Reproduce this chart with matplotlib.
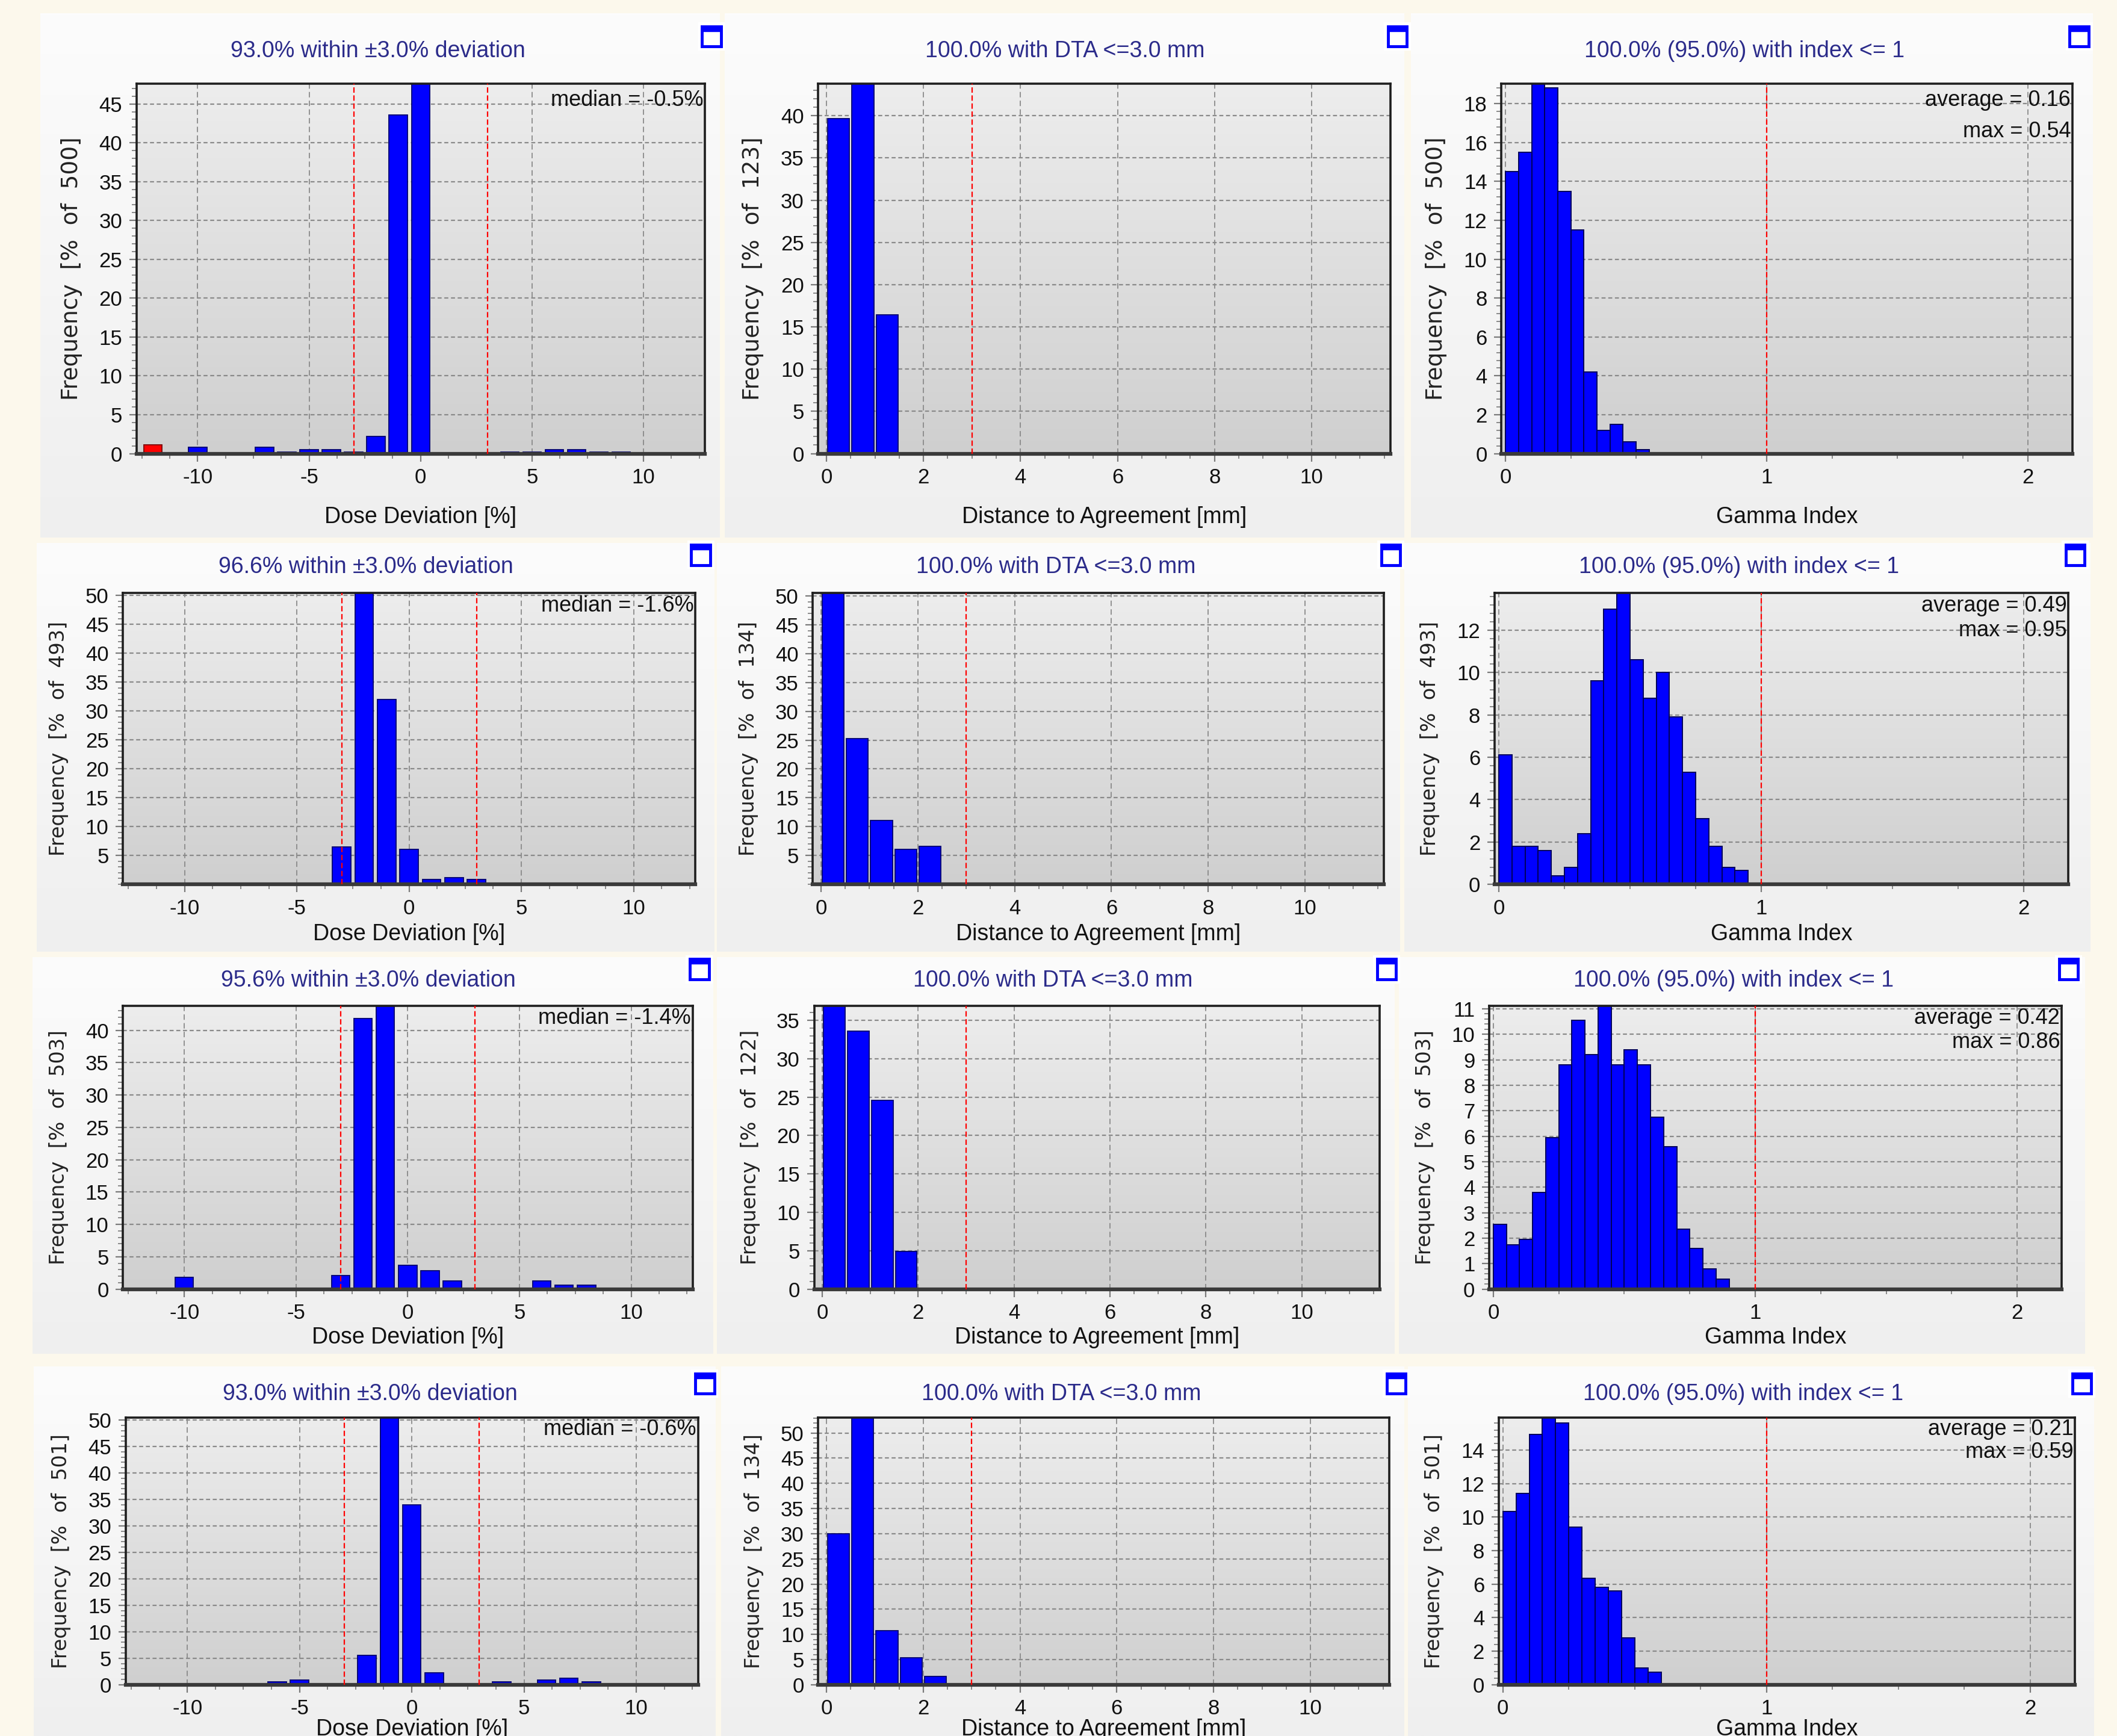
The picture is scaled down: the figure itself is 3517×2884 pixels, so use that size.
import numpy as np
import matplotlib
matplotlib.use("Agg")
import matplotlib.pyplot as plt
from matplotlib.colors import LinearSegmentedColormap
from matplotlib.patches import Rectangle
from matplotlib.ticker import AutoMinorLocator, FixedLocator

plt.rcParams['axes.unicode_minus'] = False
plt.rcParams['font.family'] = ['Liberation Sans', 'DejaVu Sans']

# ---------------- data ----------------
dose_bins = [-12, -11, -10, -9, -8, -7, -6, -5, -4, -3, -2, -1, 0,
             1, 2, 3, 4, 5, 6, 7, 8, 9, 10, 11, 12]
dose_r1 = [1.1, 0, 0.8, 0, 0, 0.8, 0.2, 0.5, 0.5, 0.2, 2.2, 43.6, 48.0,
           0, 0, 0, 0.2, 0.2, 0.5, 0.5, 0.2, 0.2, 0, 0, 0]
dose_r2 = [0, 0, 0, 0, 0, 0, 0, 0, 0, 6.5, 52.0, 32.0, 6.0,
           0.8, 1.1, 0.8, 0.1, 0.1, 0.1, 0.1, 0, 0.1, 0, 0, 0.1]
dose_r3 = [0, 0, 1.8, 0, 0, 0, 0, 0, 0, 2.1, 41.8, 44.5, 3.7,
           2.9, 1.3, 0.2, 0, 0.2, 1.3, 0.6, 0.6, 0, 0, 0, 0]
dose_r4 = [0, 0, 0, 0, 0, 0.1, 0.6, 0.9, 0.1, 0.1, 5.6, 51.5, 34.0,
           2.3, 0.1, 0.1, 0.5, 0.1, 0.9, 1.2, 0.6, 0.1, 0.1, 0, 0.1]

dta_bins = [0.25, 0.75, 1.25, 1.75, 2.25]
dta_r1 = [39.7, 44.2, 16.4, 0, 0]
dta_r2 = [51.0, 25.3, 11.1, 6.0, 6.6]
dta_r3 = [37.2, 33.6, 24.6, 4.9, 0]
dta_r4 = [30.0, 53.5, 10.7, 5.3, 1.6]

gamma_bins = [0.025, 0.075, 0.125, 0.175, 0.225, 0.275, 0.325, 0.375, 0.425, 0.475,
              0.525, 0.575, 0.625, 0.675, 0.725, 0.775, 0.825, 0.875, 0.925]
gamma_r1 = [14.5, 15.5, 19.2, 18.8, 13.5, 11.5, 4.2, 1.2, 1.5, 0.6, 0.2]
gamma_r2 = [6.1, 1.8, 1.8, 1.6, 0.4, 0.8, 2.4, 9.6, 13.0, 13.9, 10.6, 8.8, 10.0,
            7.9, 5.3, 3.1, 1.8, 0.8, 0.65]
gamma_r3 = [2.55, 1.75, 1.95, 3.8, 5.95, 8.8, 10.55, 9.2, 11.3, 8.8, 9.4, 8.8,
            6.75, 5.6, 2.35, 1.6, 0.8, 0.4]
gamma_r4 = [10.35, 11.4, 14.95, 16.1, 15.6, 9.4, 6.35, 5.8, 5.6, 2.8, 1.0, 0.75]

dose_titles = ["93.0% within \u00b13.0% deviation", "96.6% within \u00b13.0% deviation",
               "95.6% within \u00b13.0% deviation", "93.0% within \u00b13.0% deviation"]
dta_title = "100.0% with DTA <=3.0 mm"
gamma_title = "100.0% (95.0%) with index <= 1"
dose_medians = ["-0.5%", "-1.6%", "-1.4%", "-0.6%"]
gamma_avg = ["0.16", "0.49", "0.42", "0.21"]
gamma_max = ["0.54", "0.95", "0.86", "0.59"]
dose_n = [500, 493, 503, 501]
dta_n = [123, 134, 122, 134]
gamma_n = [500, 493, 503, 501]

dose_ticks = [[0, 5, 10, 15, 20, 25, 30, 35, 40, 45],
              [5, 10, 15, 20, 25, 30, 35, 40, 45, 50],
              [0, 5, 10, 15, 20, 25, 30, 35, 40],
              [0, 5, 10, 15, 20, 25, 30, 35, 40, 45, 50]]
dta_ticks = [[0, 5, 10, 15, 20, 25, 30, 35, 40],
             [5, 10, 15, 20, 25, 30, 35, 40, 45, 50],
             [0, 5, 10, 15, 20, 25, 30, 35],
             [0, 5, 10, 15, 20, 25, 30, 35, 40, 45, 50]]
gamma_ticks = [[0, 2, 4, 6, 8, 10, 12, 14, 16, 18],
               [0, 2, 4, 6, 8, 10, 12],
               [0, 1, 2, 3, 4, 5, 6, 7, 8, 9, 10, 11],
               [0, 2, 4, 6, 8, 10, 12, 14]]
dose_ytop = [47.6, 50.5, 43.8, 50.5]
dta_ytop = [43.8, 50.6, 36.9, 53.1]
gamma_ytop = [19.03, 13.78, 11.12, 15.95]

dose_rows = [dose_r1, dose_r2, dose_r3, dose_r4]
dta_rows = [dta_r1, dta_r2, dta_r3, dta_r4]
gamma_rows = [gamma_r1, gamma_r2, gamma_r3, gamma_r4]

# ---------------- layout (reference pixel coords on a 1568x1286 grid) ----------------
W, H = 1568.0, 1286.0
axes_boxes = [
    [(101, 522, 62, 336), (606, 1030, 62, 336), (1112, 1535, 62, 336)],
    [(91, 515, 439, 655), (602, 1025, 439, 655), (1107, 1532, 439, 655)],
    [(91, 513, 745, 955), (603, 1022, 745, 955), (1103, 1527, 745, 955)],
    [(93, 517, 1050, 1248), (606, 1029, 1050, 1248), (1110, 1537, 1050, 1248)],
]
panel_boxes = [
    [(30, 533, 10, 398), (537, 1040, 10, 398), (1045, 1550, 10, 398)],
    [(27, 529, 402, 705), (531, 1037, 402, 705), (1040, 1548, 402, 705)],
    [(24, 528, 709, 1003), (531, 1033, 709, 1003), (1036, 1544, 709, 1003)],
    [(25, 530, 1012, 1286), (534, 1040, 1012, 1286), (1043, 1551, 1012, 1286)],
]
title_xc = [
    [280, 789, 1292],
    [271, 782, 1288],
    [273, 780, 1284],
    [274, 786, 1291],
]
icons = [
    [(527, 27), (1035, 27), (1540, 27)],
    [(519, 411), (1030, 411), (1537, 411)],
    [(518, 718), (1027, 718), (1532, 718)],
    [(522, 1025), (1034, 1025), (1542, 1025)],
]
xlabel_y = [-0.142, -0.134, -0.133, -0.126]

fig = plt.figure(figsize=(35.17, 28.84), dpi=100)
fig.patch.set_facecolor('#fcf8ec')

panel_cmap = LinearSegmentedColormap.from_list('pan', ['#efefef', '#fcfcfc'])
plot_cmap = LinearSegmentedColormap.from_list('plt', ['#cfcfcf', '#ededed'])
grad = np.linspace(0, 1, 256).reshape(-1, 1)


def frac(box):
    l, r, t, b = box
    return [l / W, 1 - b / H, (r - l) / W, (b - t) / H]


# panel backgrounds
for row in panel_boxes:
    for pb in row:
        pax = fig.add_axes(frac(pb), zorder=-5)
        pax.imshow(grad, cmap=panel_cmap, origin='lower', aspect='auto',
                   extent=(0, 1, 0, 1))
        pax.set_axis_off()

TITLE_C = '#2b2b8a'
FS_TICK = 25
FS_TITLE = 27
FS_XL = 27
FS_YL = 24
FS_ANN = 26


def ylab(n):
    return "Frequency  [%  of  " + str(n) + "]"


def style_axes(ax, box, txc, xlim, ytop, yticks, xmajor, title, xlabel, ylabel, row):
    ax.imshow(grad, cmap=plot_cmap, origin='lower', aspect='auto',
              extent=(0, 1, 0, 1), transform=ax.transAxes, zorder=0)
    ax.set_xlim(*xlim)
    ax.set_ylim(0, ytop)
    ax.xaxis.set_major_locator(FixedLocator(xmajor))
    ax.yaxis.set_major_locator(FixedLocator(yticks))
    ax.xaxis.set_minor_locator(AutoMinorLocator(4))
    ax.yaxis.set_minor_locator(AutoMinorLocator(5))
    ax.set_axisbelow(True)
    ax.grid(True, axis='x', which='major', color='#8a8a8a', linestyle=(0, (5, 3)), linewidth=1.3, zorder=0.5)
    ax.grid(True, axis='y', which='major', color='#8a8a8a', linestyle=(0, (3, 2)), linewidth=1.6, zorder=0.5)
    for s in ['top', 'left', 'right']:
        ax.spines[s].set_color('#1e1e1e')
        ax.spines[s].set_linewidth(2.6)
    ax.spines['bottom'].set_color('#3a3a3a')
    ax.spines['bottom'].set_linewidth(4.5)
    ax.tick_params(axis='both', which='major', labelsize=FS_TICK, colors='#7a7a7a',
                   labelcolor='#111111', length=9, width=1.6, direction='out', pad=8)
    ax.tick_params(axis='both', which='minor', colors='#8a8a8a', length=6, width=1.4,
                   direction='out')
    l, r, t, b = box
    ax.text((txc - l) / (r - l), 1.088, title, transform=ax.transAxes, ha='center',
            va='center', fontsize=FS_TITLE, color=TITLE_C, clip_on=False)
    ax.set_xlabel(xlabel, fontsize=FS_XL, color='#111111')
    ax.xaxis.set_label_coords(0.5, xlabel_y[row])
    ax.set_ylabel(ylabel, fontsize=FS_YL + (3 if row == 0 else 0), color='#222222',
                  family='DejaVu Sans')
    ax.yaxis.set_label_coords(-0.095, 0.5)


for r in range(4):
    # ---- dose deviation ----
    box = axes_boxes[r][0]
    ax = fig.add_axes(frac(box))
    style_axes(ax, box, title_xc[r][0], (-12.75, 12.75), dose_ytop[r], dose_ticks[r],
               [-10, -5, 0, 5, 10], dose_titles[r], 'Dose Deviation [%]',
               ylab(dose_n[r]), r)
    cols = ['#ff0000' if abs(b) >= 12 else '#0000ff' for b in dose_bins]
    edges = ['#7a0000' if abs(b) >= 12 else '#00006e' for b in dose_bins]
    ax.bar(dose_bins, dose_rows[r], width=0.82, color=cols, edgecolor=edges,
           linewidth=1.3, zorder=2)
    for v in (-3, 3):
        ax.axvline(v, color='#ff0000', linestyle=(0, (4, 2)), linewidth=1.6, zorder=3)
    ax.text(0.997, 0.955, 'median = ' + dose_medians[r], transform=ax.transAxes,
            ha='right', va='center', fontsize=FS_ANN, color='#111111', zorder=4)

    # ---- distance to agreement ----
    box = axes_boxes[r][1]
    ax = fig.add_axes(frac(box))
    style_axes(ax, box, title_xc[r][1], (-0.17, 11.63), dta_ytop[r], dta_ticks[r],
               [0, 2, 4, 6, 8, 10], dta_title, 'Distance to Agreement [mm]',
               ylab(dta_n[r]), r)
    ax.bar(dta_bins, dta_rows[r], width=0.45, color='#0000ff', edgecolor='#00006e',
           linewidth=1.3, zorder=2)
    ax.axvline(3, color='#ff0000', linestyle=(0, (4, 2)), linewidth=1.6, zorder=3)

    # ---- gamma index ----
    box = axes_boxes[r][2]
    ax = fig.add_axes(frac(box))
    style_axes(ax, box, title_xc[r][2], (-0.016, 2.17), gamma_ytop[r], gamma_ticks[r],
               [0, 1, 2], gamma_title, 'Gamma Index', ylab(gamma_n[r]), r)
    g = gamma_rows[r]
    ax.bar(gamma_bins[:len(g)], g, width=0.05, color='#0000ff', edgecolor='#00005a',
           linewidth=1.4, zorder=2)
    ax.axvline(1, color='#ff0000', linestyle=(0, (4, 2)), linewidth=1.6, zorder=3)
    ax.text(0.997, 0.955, 'average = ' + gamma_avg[r], transform=ax.transAxes,
            ha='right', va='center', fontsize=FS_ANN, color='#111111', zorder=4)
    ax.text(0.997, 0.87, 'max = ' + gamma_max[r], transform=ax.transAxes,
            ha='right', va='center', fontsize=FS_ANN, color='#111111', zorder=4)

# small window icons
for row in icons:
    for (cx, cy) in row:
        w, h = 14.0, 15.0
        x0 = (cx - w / 2) / W
        y0 = 1 - (cy + h / 2) / H
        fig.patches.append(Rectangle((x0 - 3 / W, y0 - 3 / H), (w + 6) / W, (h + 6) / H,
                                     transform=fig.transFigure, facecolor='white',
                                     edgecolor='none', zorder=5))
        fig.patches.append(Rectangle((x0, y0), w / W, h / H, transform=fig.transFigure,
                                     facecolor='white', edgecolor='#0000ff',
                                     linewidth=3.5, zorder=6))
        fig.patches.append(Rectangle((x0, y0 + (h - 3.5) / H), w / W, 3.5 / H,
                                     transform=fig.transFigure, facecolor='#0000ff',
                                     edgecolor='#0000ff', linewidth=1, zorder=7))

fig.savefig('out.png', dpi=100, facecolor=fig.get_facecolor())
